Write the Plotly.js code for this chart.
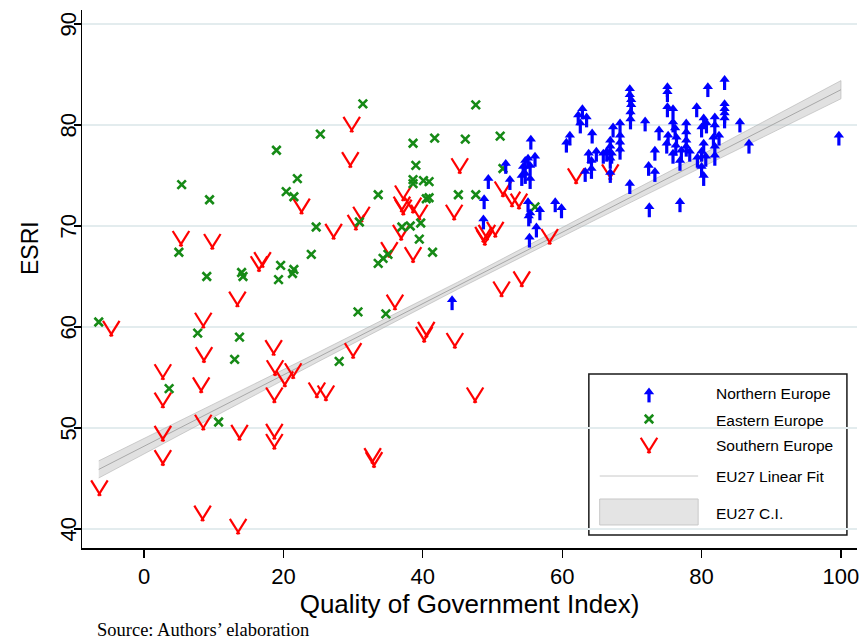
<!DOCTYPE html>
<html>
<head>
<meta charset="utf-8">
<script src="https://cdn.plot.ly/plotly-3.0.1.min.js"></script>
<style>
html,body{margin:0;padding:0;background:#fff;}
#chart{width:867px;height:643px;}
#err{position:absolute;left:100px;top:100px;color:#900;font:12px monospace;white-space:pre-wrap;width:600px;}
</style>
</head>
<body>
<div id="chart"></div>
<div id="err"></div>
<script>
window.onerror = function(m, s, l, c, e){ document.getElementById('err').textContent += 'ERR: ' + m + ' ' + (e && e.stack ? e.stack : '') + '\n'; };
// Northern Europe (blue arrows)
var northX = [44.2,48.7,48.8,49.4,51.9,52.5,54.2,54.4,54.7,54.7,55.1,55.4,55.4,56.1,55.5,55.1,55.4,55.2,56.8,59.0,59.9,56.3,55.3,
  60.6,61.1,62.9,62.3,63.5,62.6,64.3,63.8,64.2,64.9,65.9,63.3,64.2,66.4,66.9,67.1,66.9,66.9,66.9,67.3,68.3,68.3,68.3,68.3,
  69.7,69.7,69.9,69.9,69.8,69.8,69.7,71.9,72.4,73.3,72.5,73.3,73.9,75.1,75.1,75.1,75.9,75.9,76.2,75.2,75.0,76.4,76.3,75.9,
  77.1,76.9,78.3,77.8,77.8,77.8,77.8,79.3,80.3,80.0,80.7,81.9,81.9,81.7,82.5,80.3,80.0,80.6,79.4,81.9,81.9,80.0,80.3,76.9,
  80.9,83.3,83.3,83.3,83.3,83.3,85.5,86.8,99.7];
var northY = [62.7,70.7,72.7,74.7,76.2,74.6,75.0,75.9,76.5,75.2,76.7,76.0,74.7,76.9,78.6,72.4,71.3,71.0,71.6,72.4,71.8,69.9,68.9,
  78.3,79.0,81.6,81.0,80.8,80.2,79.2,77.2,76.5,77.4,77.2,75.4,75.7,77.4,77.9,77.2,78.5,76.7,75.3,79.8,80.2,79.0,78.3,77.6,
  83.6,83.0,82.5,82.0,81.3,80.6,74.2,80.4,76.0,75.4,71.9,77.5,79.5,83.8,83.3,81.8,81.6,80.3,79.7,79.0,78.2,78.8,78.0,77.2,
  77.5,76.5,77.4,80.2,79.3,78.5,77.9,81.8,80.7,79.8,80.2,80.8,80.0,78.8,79.0,78.2,77.4,76.9,76.8,77.9,77.0,75.9,75.0,72.4,
  83.8,84.5,82.1,81.6,81.2,80.7,80.3,78.2,79.0];

// Eastern Europe (green crosses)
var eastX = [-6.5,3.6,5.0,5.4,7.7,9.0,9.4,10.7,13.0,13.7,14.0,14.2,19.0,19.3,19.6,20.4,21.3,21.5,21.5,22.0,24.0,24.7,25.3,
  28.0,30.7,30.9,31.4,33.6,33.6,34.3,34.7,35.0,37.0,38.2,38.6,38.6,38.6,39.0,39.5,39.7,40.1,40.5,40.9,40.9,41.4,41.7,
  45.1,46.1,47.6,47.6,51.1,51.5,56.1];
var eastY = [60.5,53.9,67.4,74.1,59.4,65.0,72.6,50.6,56.8,59.0,65.4,65.0,77.5,64.7,66.1,73.4,65.3,65.7,72.9,74.7,67.2,69.9,79.1,
  56.6,61.5,70.4,82.1,66.3,73.1,66.8,61.3,67.2,69.9,70.0,78.2,74.6,74.2,76.0,68.7,70.3,74.5,72.7,74.4,72.8,67.4,78.7,
  73.1,78.6,82.0,73.1,78.9,75.7,71.9];

// Southern Europe (red V; values at the V's point)
var southX = [-6.4,-4.7,2.7,2.7,2.7,2.7,5.3,8.2,8.4,8.5,8.6,8.5,9.8,13.4,13.5,13.7,16.5,17.0,18.6,18.8,18.7,18.7,18.7,
  20.2,21.4,22.6,24.8,26.1,27.2,29.6,29.8,30.0,30.4,31.2,32.8,33.0,35.2,36.0,36.9,37.0,37.2,37.2,38.6,38.6,39.5,40.2,40.5,
  44.5,44.6,45.3,47.5,48.7,48.9,49.2,50.4,51.3,51.5,52.8,53.8,54.2,58.2,62.0,66.9];
var southY = [43.5,59.3,55.0,52.2,48.9,46.5,68.2,53.7,41.0,60.1,56.7,50.0,67.9,62.2,39.7,49.0,65.7,66.1,57.4,55.4,52.7,49.1,48.1,
  54.3,55.1,71.4,53.2,52.9,68.9,76.0,79.5,57.1,69.8,70.6,46.7,46.3,67.1,61.9,68.8,71.6,71.3,72.7,71.5,66.6,70.8,58.7,59.2,
  70.8,58.1,75.4,52.7,68.6,68.3,68.8,69.1,63.2,73.1,72.1,71.9,64.2,68.4,74.4,74.8];

// EU27 linear fit and confidence interval
var fitX = [-6.5, 100];
var fitY = [45.9, 83.5];
var ciX = [-6.5, 10, 25, 45, 65, 80, 100];
var ciLow = [45.05, 51.10, 56.57, 63.74, 70.69, 75.81, 82.60];
var ciHigh = [46.75, 52.36, 57.49, 64.44, 71.61, 77.07, 84.40];

// Axis ticks and legend labels
var xTicks = [0, 20, 40, 60, 80, 100];
var yTicks = [40, 50, 60, 70, 80, 90];
var legendLabels = ['Northern Europe', 'Eastern Europe', 'Southern Europe', 'EU27 Linear Fit', 'EU27 C.I.'];

var BLUE = '#0000ff', GREEN = '#168a16', RED = '#ff0000';

function arrowTraces(xs, ys, xa, ya) {
  return [
    {type:'scatter', mode:'markers', x:xs, y:ys, xaxis:xa, yaxis:ya, showlegend:false, hoverinfo:'skip',
     marker:{symbol:'line-ns', size:7, standoff:5.5, color:BLUE, line:{color:BLUE, width:3.2}}},
    {type:'scatter', mode:'markers', x:xs, y:ys, xaxis:xa, yaxis:ya, showlegend:false, hoverinfo:'skip',
     marker:{symbol:'triangle-up', size:9, color:BLUE, line:{width:0}}}
  ];
}
function crossTrace(xs, ys, xa, ya) {
  return {type:'scatter', mode:'markers', x:xs, y:ys, xaxis:xa, yaxis:ya, showlegend:false, hoverinfo:'skip',
    marker:{symbol:'x-thin', size:8.5, color:GREEN, line:{color:GREEN, width:2.6}}};
}
function vTraces(xs, ys, xa, ya) {
  return [148, 212].map(function(a){
    return {type:'scatter', mode:'markers', x:xs, y:ys, xaxis:xa, yaxis:ya, showlegend:false, hoverinfo:'skip',
      marker:{symbol:'line-ns', size:13, standoff:6.5, angle:a, color:RED, line:{color:RED, width:2.2}}};
  });
}

var traces = [];
// CI band and fit line behind the markers
var bandX = ciX.concat(ciX.slice().reverse());
var bandY = ciHigh.concat(ciLow.slice().reverse());
traces.push({type:'scatter', mode:'lines', x:bandX, y:bandY, fill:'toself', showlegend:false, hoverinfo:'skip',
  fillcolor:'rgba(200,200,200,0.55)', line:{color:'rgba(175,175,175,0.7)', width:0.8}});
traces.push({type:'scatter', mode:'lines', x:fitX, y:fitY, showlegend:false, hoverinfo:'skip',
  line:{color:'#a8a8a8', width:1}});

traces = traces.concat(vTraces(southX, southY, 'x', 'y'));
traces.push(crossTrace(eastX, eastY, 'x', 'y'));
traces = traces.concat(arrowTraces(northX, northY, 'x', 'y'));

// legend markers on a hidden axis pair
traces = traces.concat(arrowTraces([567], [382], 'x2', 'y2'));
traces.push(crossTrace([567], [409], 'x2', 'y2'));
traces = traces.concat(vTraces([567], [441], 'x2', 'y2'));

var FONT = 'Liberation Sans, Arial, sans-serif';
var legY = [0.2881, 0.2379, 0.1896, 0.132, 0.065];
var annotations = legendLabels.map(function(t, i){
  return {text:t, xref:'paper', yref:'paper', x:0.8155, y:legY[i], xanchor:'left', yanchor:'middle',
    showarrow:false, font:{family:FONT, size:15.5, color:'#000'}};
});
annotations.push({text:'Source: Authors\u2019 elaboration', xref:'paper', yref:'paper', x:0.0168, y:-0.152,
  xanchor:'left', yanchor:'middle', showarrow:false, font:{family:'Liberation Serif, Times New Roman, serif', size:18.5, color:'#000'}});
annotations.push({text:'ESRI', xref:'paper', yref:'paper', x:-0.0671, y:0.5576, xanchor:'center', yanchor:'middle',
  textangle:-90, showarrow:false, font:{family:FONT, size:23, color:'#000'}});
// y tick labels (rotated, close to the ticks)
yTicks.forEach(function(v){
  annotations.push({text:String(v), xref:'paper', yref:'y', x:-0.0175, y:v, xanchor:'center', yanchor:'middle',
    textangle:-90, showarrow:false, font:{family:FONT, size:22, color:'#000'}});
});

var shapes = [
  {type:'rect', xref:'paper', yref:'paper', x0:0.654, x1:0.987, y0:0.0242, y1:0.3234,
   line:{color:'#1a1a1a', width:1.5}, fillcolor:'#ffffff', layer:'between'},
  {type:'line', xref:'paper', yref:'paper', x0:0.668, x1:0.795, y0:0.1338, y1:0.1338,
   line:{color:'#c8c8c8', width:1}, layer:'between'},
  {type:'rect', xref:'paper', yref:'paper', x0:0.668, x1:0.795, y0:0.0428, y1:0.0911,
   line:{color:'#c8c8c8', width:1}, fillcolor:'#e4e4e4', layer:'between'}
];

var layout = {
  width:867, height:643,
  margin:{l:82, r:10, t:10, b:95},
  paper_bgcolor:'#fff', plot_bgcolor:'rgba(0,0,0,0)',
  showlegend:false,
  font:{family:FONT, color:'#000'},
  xaxis:{range:[-8.9, 102.3], tickmode:'array', tickvals:xTicks, ticks:'outside', ticklen:8,
    tickwidth:1.2, tickcolor:'#000', showgrid:false, zeroline:false, showline:true, linecolor:'#000', linewidth:1.5,
    tickfont:{family:FONT, size:22}, title:{text:'Quality of Government Index)', font:{family:FONT, size:26}, standoff:4}},
  yaxis:{range:[38.12, 91.39], tickmode:'array', tickvals:yTicks, ticks:'outside', ticklen:7,
    tickwidth:1.2, tickcolor:'#000', showticklabels:false, showgrid:true, gridcolor:'#e3ecee', gridwidth:2, zeroline:false,
    showline:true, linecolor:'#000', linewidth:1.5},
  xaxis2:{domain:[0,1], anchor:'y2', range:[0,775], visible:false, fixedrange:true},
  yaxis2:{domain:[0,1], anchor:'x2', range:[538,0], visible:false, fixedrange:true},
  annotations:annotations,
  shapes:shapes
};

Plotly.newPlot('chart', traces, layout, {staticPlot:true, displayModeBar:false}).catch(function(e){
  document.getElementById('err').textContent += 'PROMISE: ' + e + '\n' + (e && e.stack);
});
</script>
</body>
</html>
